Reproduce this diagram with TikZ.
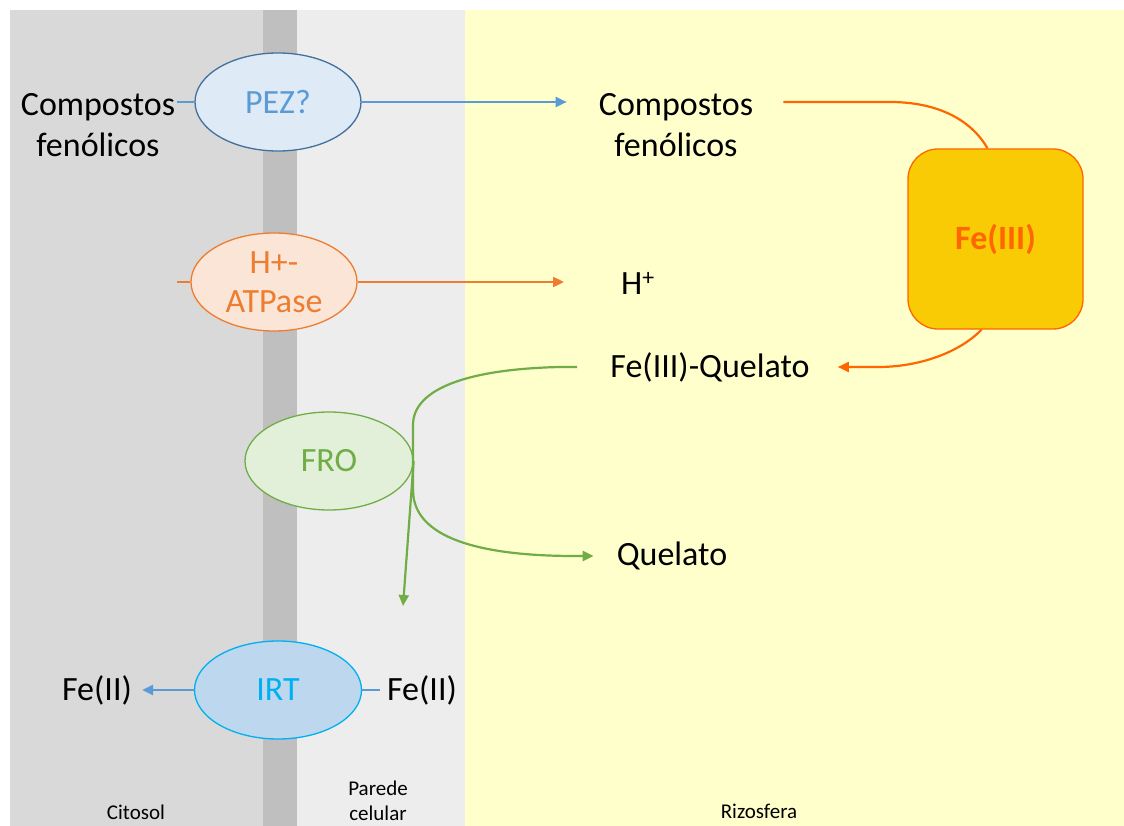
\documentclass[tikz,border=0pt]{standalone}
\usepackage{fontspec}
\setmainfont{Carlito}
\usetikzlibrary{arrows.meta,shapes.geometric,calc}
\definecolor{cyto}{HTML}{D9D9D9}
\definecolor{memb}{HTML}{BFBFBF}
\definecolor{wall}{HTML}{EDEDED}
\definecolor{rizo}{HTML}{FFFFCC}
\definecolor{pezfill}{HTML}{DEEBF7}
\definecolor{pezdraw}{HTML}{41719C}
\definecolor{bluel}{HTML}{5B9BD5}
\definecolor{atpfill}{HTML}{FBE5D6}
\definecolor{atpc}{HTML}{ED7D31}
\definecolor{frofill}{HTML}{E2F0D9}
\definecolor{froc}{HTML}{70AD47}
\definecolor{irtfill}{HTML}{BDD7EE}
\definecolor{irtc}{HTML}{00B0F0}
\definecolor{gold}{HTML}{F8CB05}
\definecolor{orng}{HTML}{FF6600}
\newcommand\mainsz{\fontsize{34}{41}\selectfont}
\newcommand\smallsz{\fontsize{21}{25}\selectfont}
\begin{document}
\begin{tikzpicture}[x=1pt,y=-1pt,
  txt/.style={inner sep=0pt,font=\mainsz,align=center},
  lbl/.style={inner sep=0pt,font=\smallsz,align=center},
  oval/.style={ellipse,minimum width=166pt,minimum height=98pt,inner sep=0pt,line width=1.3pt,font=\mainsz,align=center},
  tip/.style={-{Triangle[length=11pt,width=10pt]}},
  conn/.style={line width=2.2pt}
]
\useasboundingbox (0,0) rectangle (1124,826);
\clip (0,0) rectangle (1124,826);
% backgrounds
\fill[cyto] (10,10) rectangle (263,826);
\fill[memb] (263,10) rectangle (297,826);
\fill[wall] (297,10) rectangle (465,826);
\fill[rizo] (465,10) rectangle (1124,826);

% nodes
\node[txt] (fenL) at (98,125) {Compostos\\fenólicos};
\node[oval,fill=pezfill,draw=pezdraw,text=bluel] (pez) at (278,102) {PEZ?};
\node[txt] (fenR) at (676,125) {Compostos\\fenólicos};
\node[draw=orng,fill=gold,line width=1.3pt,rounded corners=30pt,minimum width=175pt,minimum height=180pt,inner sep=0pt,
      font=\fontsize{34}{40}\selectfont\bfseries,text=orng] (fe3) at (995.5,239) {Fe(III)};
\node[oval,fill=atpfill,draw=atpc,text=atpc,align=center] (atp) at (274,282) {H+-\\[-2pt]ATPase};
\node[txt] (hplus) at (638,283) {H\textsuperscript{+}};
\node[txt] (feq) at (710,367) {Fe(III)-Quelato};
\node[oval,fill=frofill,draw=froc,text=froc,minimum width=168pt] (fro) at (329,461) {FRO};
\node[txt] (quel) at (672,556) {Quelato};
\node[oval,fill=irtfill,draw=irtc,text=irtc,minimum width=167pt] (irt) at (278,690) {IRT};
\node[txt] (fe2L) at (97,690) {Fe(II)};
\node[txt] (fe2R) at (422,690) {Fe(II)};
\node[lbl] (citosol) at (136,812) {Citosol};
\node[lbl] (parede) at (378,801) {Parede\\celular};
\node[lbl] (rizosf) at (759,811) {Rizosfera};

% blue connectors
\draw[conn,bluel] (pez.west) -- ($(pez.west -| fenL.east)+(2,0)$);
\draw[conn,bluel,tip] (pez.east) -- ($(pez.east -| fenR.west)+(-32,0)$);
% ATPase
\draw[conn,atpc] (atp.west) -- ++(-13,0);
\draw[conn,atpc,tip] (atp.east) -- ($(atp.east -| hplus.west)+(-57,0)$);
% orange Fe(III) connectors
\draw[conn,orng] ($(pez.east -| fenR.east)+(30,0)$) -- (890,102)
   .. controls (935,102) and (970,118) .. ([xshift=-8pt]fe3.north);
\draw[conn,orng,tip] ([xshift=-14pt]fe3.south) .. controls (960,352) and (920,367) .. (878,367)
   -- ($(feq.east)+(28,0)$);
% green FRO connectors
\draw[conn,froc] ($(feq.west)+(-33,0)$) -- (560,367) .. controls (470,369) and (413,388) .. (413,425)
   -- (413,497);
\draw[conn,froc,tip] (413,490) .. controls (413,538) and (480,556) .. (575,556) -- ($(quel.west)+(-23,0)$);
\draw[conn,froc,tip] (fro.east) -- (403,606);
% IRT
\draw[conn,bluel,tip] (irt.west) -- ($(fe2L.east)+(10,0)$);
\draw[conn,bluel] (irt.east) -- ($(fe2R.west)+(-7,0)$);
\end{tikzpicture}
\end{document}
